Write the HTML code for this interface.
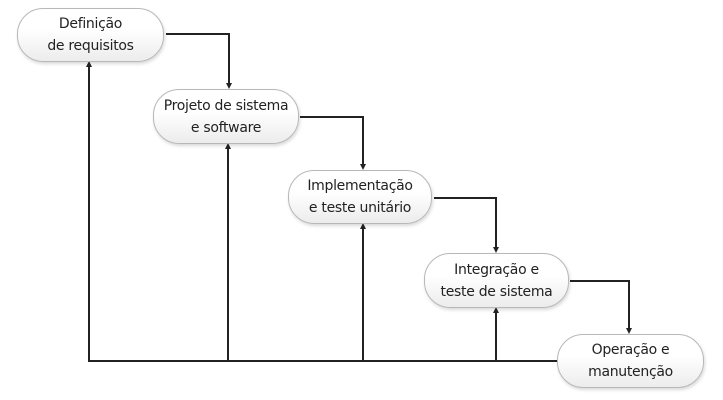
<!DOCTYPE html><html><head><style>
body{margin:0;background:#fff;width:723px;height:400px;position:relative;overflow:hidden;font-family:"DejaVu Sans","Liberation Sans",sans-serif}
.b{position:absolute;box-sizing:border-box;border:1.5px solid #b8b8b8;border-radius:26px;background:linear-gradient(#fff 40%,#ececec);box-shadow:1px 2px 3px rgba(0,0,0,.15);display:flex;align-items:center;justify-content:center;text-align:center;font-size:14px;line-height:22px;color:#222;letter-spacing:-0.3px}
</style></head><body>
<svg width="723" height="400" style="position:absolute;left:0;top:0">
<g stroke="#222" stroke-width="2" fill="none">
<polyline points="166,34 229,34 229,86"/>
<polyline points="300,117 363,117 363,167"/>
<polyline points="434,198 496,198 496,250"/>
<polyline points="570,281 629,281 629,331"/>
<polyline points="89,64 89,361 557,361"/>
<line x1="228" y1="146" x2="228" y2="361"/>
<line x1="363" y1="226" x2="363" y2="361"/>
<line x1="496" y1="310" x2="496" y2="361"/>
</g>
<g fill="#222">
<polygon points="226,83 232,83 229,89"/><polygon points="360,164 366,164 363,170"/>
<polygon points="493,247 499,247 496,253"/><polygon points="626,328 632,328 629,334"/>
<polygon points="86,67 92,67 89,61"/><polygon points="225,149 231,149 228,143"/>
<polygon points="360,229 366,229 363,223"/><polygon points="493,313 499,313 496,307"/>
</g></svg>
<div class="b" style="left:17px;top:8px;width:147px;height:54px">Definição<br>de requisitos</div>
<div class="b" style="left:153px;top:89px;width:146px;height:55px">Projeto de sistema<br>e software</div>
<div class="b" style="left:288px;top:170px;width:144px;height:54px">Implementação<br>e teste unitário</div>
<div class="b" style="left:424px;top:253px;width:145px;height:55px">Integração e<br>teste de sistema</div>
<div class="b" style="left:557px;top:334px;width:147px;height:54px">Operação e<br>manutenção</div>
</body></html>
